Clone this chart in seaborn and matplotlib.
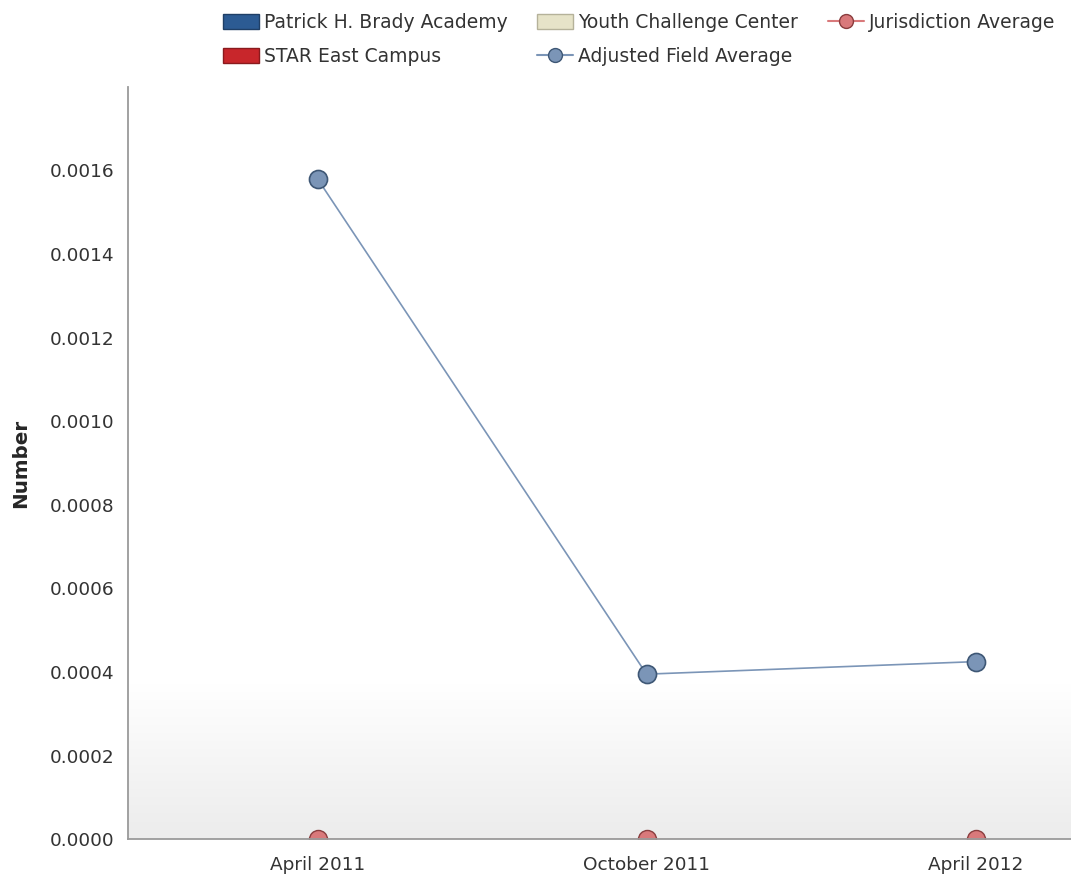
import numpy as np
import pandas as pd
import seaborn as sns
import matplotlib.pyplot as plt
from matplotlib.patches import Patch
from matplotlib.lines import Line2D

# data
periods = ["April 2011", "October 2011", "April 2012"]
schools = ["Patrick H. Brady Academy", "STAR East Campus", "Youth Challenge Center"]
school_values = [0.0, 0.0, 0.0]
field_avg = [0.00158, 0.000395, 0.000425]
jurisdiction_avg = [0.0, 0.0, 0.0]
y_ticks = [0.0, 0.0002, 0.0004, 0.0006, 0.0008, 0.0010, 0.0012, 0.0014, 0.0016]

school_colors = ["#2c5b93", "#c8262b", "#e6e3c8"]
field_color = "#7b95b7"
field_edge = "#3e5775"
jur_color = "#d9797b"
jur_edge = "#8a3d3e"

sns.set_style("white")
plt.rcParams["font.family"] = ["DejaVu Sans"]

fig = plt.figure(figsize=(10.71, 8.77), dpi=100)
ax = fig.add_axes([0.1195, 0.043, 0.8805, 0.858])

bars = pd.DataFrame({
    "period": np.repeat(periods, len(schools)),
    "school": schools * len(periods),
    "value": school_values * len(periods),
})
sns.barplot(data=bars, x="period", y="value", hue="school", palette=school_colors,
            linewidth=0, legend=False, ax=ax)

xs = np.arange(len(periods))
sns.lineplot(x=xs, y=field_avg, color=field_color, linewidth=1.2, marker="o",
             markersize=13, markerfacecolor=field_color, markeredgecolor=field_edge,
             markeredgewidth=1.2, ax=ax, zorder=5)
sns.lineplot(x=xs, y=jurisdiction_avg, color=jur_color, linewidth=1.0, marker="o",
             markersize=13, markerfacecolor=jur_color, markeredgecolor=jur_edge,
             markeredgewidth=1.0, clip_on=True, ax=ax, zorder=4)

x0, x1 = -0.576, 2.29
# soft gray gradient near the bottom of the plot area (white -> #ededed)
t = np.linspace(0, 1, 256).reshape(-1, 1)
shade = 1.0 - 0.075 * t
rgb = np.dstack([shade, shade, shade])
ax.imshow(rgb, extent=[x0, x1, 0, 0.00037], aspect="auto", origin="upper", zorder=0)
ax.set_xlim(x0, x1)
ax.set_ylim(0, 0.0018)

ax.set_yticks(y_ticks)
ax.set_yticklabels([f"{v:.4f}" for v in y_ticks])
ax.set_xticks(xs)
ax.set_xticklabels(periods)
ax.set_xlabel("")
ax.set_ylabel("Number", fontsize=14.3, fontweight="bold", labelpad=14)

for side in ["top", "right"]:
    ax.spines[side].set_visible(False)
for side in ["left", "bottom"]:
    ax.spines[side].set_color("#9a9a9a")
    ax.spines[side].set_linewidth(1.3)
    ax.spines[side].set_zorder(6)
ax.tick_params(axis="both", colors="#9a9a9a", length=6, width=1.2, labelsize=13.3,
               labelcolor="#333333", direction="out")
ax.tick_params(axis="x", pad=6)

handles = [
    Patch(facecolor=school_colors[0], edgecolor="#1f3f66", label=schools[0]),
    Patch(facecolor=school_colors[1], edgecolor="#8a1a1d", label=schools[1]),
    Patch(facecolor=school_colors[2], edgecolor="#b5b29a", label=schools[2]),
    Line2D([], [], color=field_color, marker="o", markersize=10, markerfacecolor=field_color,
           markeredgecolor=field_edge, label="Adjusted Field Average"),
    Line2D([], [], color=jur_color, marker="o", markersize=10, markerfacecolor=jur_color,
           markeredgecolor=jur_edge, label="Jurisdiction Average"),
]
fig.legend(handles=handles, ncol=3, loc="upper left", bbox_to_anchor=(0.196, 1.0),
           frameon=False, fontsize=13.5, handlelength=1.9, handleheight=0.9,
           handletextpad=0.27, columnspacing=1.6, labelspacing=0.8, borderaxespad=0.3,
           labelcolor="#333333")

fig.savefig("out.png", dpi=100)
